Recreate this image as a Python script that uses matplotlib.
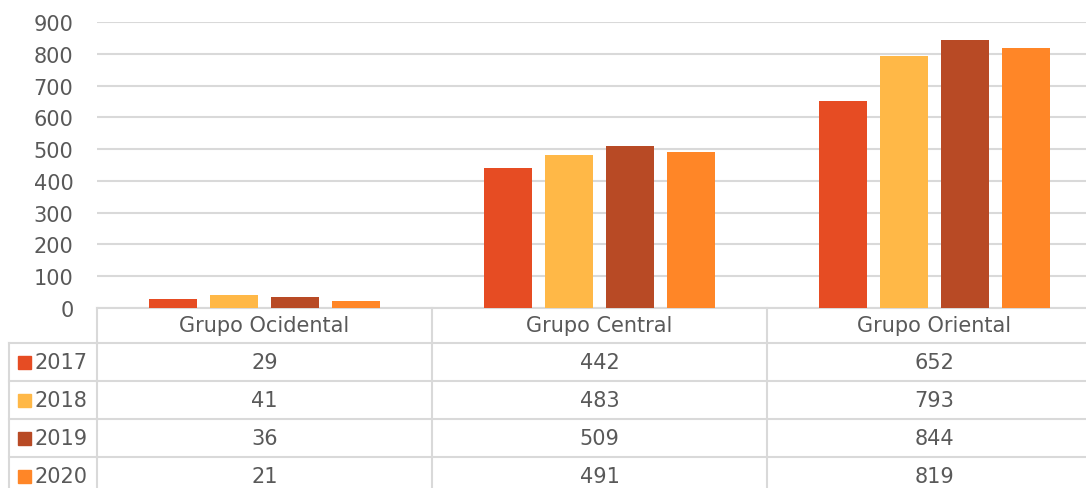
import matplotlib
matplotlib.use('Agg')
from matplotlib import pyplot as plt
from matplotlib.transforms import blended_transform_factory
from matplotlib.patches import Rectangle
import numpy as np

grupos = ['Grupo Ocidental', 'Grupo Central', 'Grupo Oriental']
anos = ['2017', '2018', '2019', '2020']
v2017 = [29, 442, 652]
v2018 = [41, 483, 793]
v2019 = [36, 509, 844]
v2020 = [21, 491, 819]
valores = [v2017, v2018, v2019, v2020]
cores = ['#E64C23', '#FFB847', '#B84A25', '#FF8627']

plt.rcParams['font.family'] = ['DejaVu Sans']
cinza = '#595959'
linha = '#D9D9D9'

W, H = 1086, 489
fig = plt.figure(figsize=(W / 100, H / 100), dpi=100)
# eixo: x de 97 a 1102 px, y de 23 (900) a 309 (0)
ax = fig.add_axes([97 / W, (H - 309) / H, 1005 / W, 286 / H])

x = np.arange(len(grupos))
larg = 0.143
passo = 0.182
for i, serie in enumerate(valores):
    ax.bar(x + (i - 1.5) * passo, serie, width=larg, color=cores[i], zorder=3)

fs = 15
ax.set_xlim(-0.5, len(grupos) - 0.5)
ax.set_ylim(0, 900)
ax.set_yticks(range(0, 901, 100))
ax.grid(axis='y', color=linha, linewidth=1.5, zorder=0)
ax.set_xticks([])
for s in ax.spines.values():
    s.set_visible(False)
ax.tick_params(axis='y', length=0, labelsize=fs, labelcolor=cinza, pad=17)

# tabela de dados
px = 1 / 286  # um pixel em fração do eixo
trans = blended_transform_factory(ax.transData, ax.transAxes)
ftrans = blended_transform_factory(fig.transFigure, ax.transAxes)
cab = 35 * px
lin = 38 * px

def hl(x0, x1, y, t):
    ax.plot([x0, x1], [y, y], color=linha, lw=1.5, transform=t, clip_on=False, zorder=1)

def vl(xx, y0, y1, t):
    ax.plot([xx, xx], [y0, y1], color=linha, lw=1.5, transform=t, clip_on=False, zorder=1)

# linha do zero / topo do cabeçalho
hl(-0.5, len(grupos) - 0.5, 0, trans)
for j, g in enumerate(grupos):
    ax.text(j, -cab / 2, g, transform=trans, ha='center', va='center', fontsize=fs, color=cinza)
    vl(j - 0.5, 0, -cab - 5 * lin, trans)
vl(len(grupos) - 0.5, 0, -cab - 5 * lin, trans)

x_esq = 9 / W
vl(x_esq, -cab, -cab - 5 * lin, ftrans)
hl(x_esq, 97 / W, -cab, ftrans)
for i, ano in enumerate(anos):
    yt = -cab - i * lin
    hl(-0.5, len(grupos) - 0.5, yt, trans)
    hl(x_esq, 97 / W, yt - lin, ftrans)
    yc = yt - lin / 2
    ax.add_patch(Rectangle((18 / W, yc - 6.5 * px), 13 / W, 13 * px, color=cores[i],
                           transform=ftrans, clip_on=False))
    ax.text(35 / W, yc, ano, transform=ftrans, ha='left', va='center', fontsize=fs, color=cinza)
    for j in range(len(grupos)):
        ax.text(j, yc, str(valores[i][j]), transform=trans, ha='center', va='center',
                fontsize=fs, color=cinza)
hl(-0.5, len(grupos) - 0.5, -cab - 4 * lin, trans)

fig.savefig('out.png', dpi=100)
